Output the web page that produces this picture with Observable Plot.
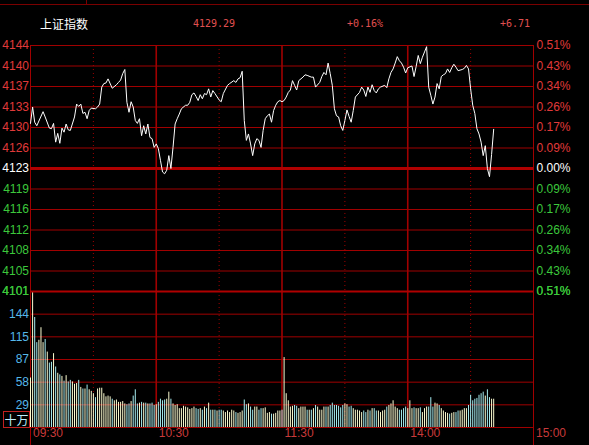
<!DOCTYPE html>
<html><head><meta charset="utf-8">
<script src="https://cdn.jsdelivr.net/npm/d3@7"></script>
<script src="https://cdn.jsdelivr.net/npm/@observablehq/plot@0.6"></script>
<style>
html,body{margin:0;padding:0;background:#000;}
#wrap{position:relative;width:589px;height:445px;background:#000;overflow:hidden;font-family:"Liberation Sans",Arial,sans-serif;}
#wrap svg{position:absolute;left:0;}
.hd{position:absolute;top:17px;font-family:"DejaVu Sans Mono",monospace;font-size:10px;color:#e05050;line-height:14px;}
#name{position:absolute;left:40px;top:16px;font-family:"Noto Sans CJK SC",sans-serif;font-size:12px;color:#fff;line-height:16px;}
#topline{position:absolute;left:0;top:4px;width:589px;height:1px;background:#7a0000;}
#toptick{position:absolute;left:86px;top:0;width:1px;height:5px;background:#7a0000;}
#unit{position:absolute;left:3px;top:411px;width:25px;height:15px;border:1px solid #c02020;color:#bfefff;font-family:"Noto Sans CJK SC",sans-serif;font-size:12px;line-height:15px;text-align:center;}
</style></head>
<body>
<div id="wrap">
  <div id="topline"></div><div id="toptick"></div>
  <div id="name">上证指数</div>
  <div class="hd" id="h1" style="left:193px"></div>
  <div class="hd" id="h2" style="left:347px"></div>
  <div class="hd" id="h3" style="left:500px"></div>
  <div id="unit">十万</div>
</div>
<script>
// ---- data ----
const title = "上证指数";
const lastPrice = "4129.29";
const changePct = "+0.16%";
const changeAbs = "+6.71";
const prevClose = 4122.58;

const priceLevels = [4143.6, 4140.1, 4136.6, 4133.1, 4129.6, 4126.1, 4122.58, 4119.1, 4115.6, 4112.1, 4108.6, 4105.1, 4101.6];
const priceLabels = ["4144","4140","4137","4133","4130","4126","4123","4119","4116","4112","4108","4105","4101"];
const pctLabels = ["0.51%","0.43%","0.34%","0.26%","0.17%","0.09%","0.00%","0.09%","0.17%","0.26%","0.34%","0.43%","0.51%"];

const volLevels = [28.85, 57.7, 86.55, 115.4, 144.25];
const volLabels = ["29","58","87","115","144"];
const volMax = 173.1;

const timeTicks = [0, 60, 120, 180, 240];
const timeLabels = ["09:30","10:30","11:30","14:00","15:00"];
const halfHourTicks = [30, 90, 150, 210];

// minute index (0 = 09:30, 120 = 11:30/13:00, 240 = 15:00)
const priceMinutes = [0,1,2,3,6,7,9,10,11,12,13,14,15,16,17,18,19,21,22,23,24,25,26,27,28,29,31,32,33,34,35,36,37,39,41,42,43,44,45,46,47,48,49,50,51,52,53,54,55,56,57,58,59,60,61,62,63,64,65,66,67,68,69,70,71,72,74,75,76,77,78,79,80,81,82,83,84,85,86,87,88,90,91,92,94,95,97,98,99,100,101,102,103,104,105,106,107,108,109,110,111,112,113,114,115,116,117,118,119,120,121,122,123,124,125,126,127,128,130,131,132,134,135,136,138,139,140,141,142,143,144,145,146,147,148,149,150,151,152,153,154,155,157,158,159,160,161,162,163,164,165,166,167,169,170,171,172,173,174,175,176,177,178,179,180,182,183,184,185,186,187,188,189,190,191,192,193,194,195,196,197,198,199,200,201,202,203,204,206,207,208,209,210,211,212,213,214,215,216,217,218,219,220,221];
const priceValues = [4130.3,4133.1,4130.5,4129.9,4132.3,4131.4,4129.5,4129.4,4130.3,4127.1,4128.6,4126.9,4129.5,4128.8,4130.2,4129.2,4129.1,4131.4,4133.6,4133.2,4133.6,4132.0,4132.2,4131.1,4132.5,4132.9,4132.8,4133.1,4133.6,4136.5,4137.1,4137.2,4137.9,4136.3,4136.9,4137.3,4137.7,4138.8,4139.5,4133.9,4132.2,4134.0,4133.1,4130.8,4130.3,4131.1,4128.2,4129.9,4128.5,4130.2,4127.9,4127.7,4126.2,4126.8,4126.0,4124.0,4122.0,4121.7,4122.3,4124.8,4122.6,4126.2,4130.2,4131.1,4131.9,4132.8,4133.4,4133.4,4133.9,4135.2,4135.5,4134.9,4134.2,4135.2,4134.5,4135.4,4135.2,4136.2,4134.8,4135.9,4135.4,4134.3,4134.0,4135.4,4136.8,4137.1,4137.6,4137.3,4137.9,4138.1,4139.2,4130.8,4127.4,4128.5,4126.8,4124.8,4126.8,4127.7,4127.4,4126.2,4129.1,4131.1,4131.6,4131.9,4130.5,4132.5,4133.4,4134.0,4134.2,4134.0,4134.2,4134.8,4135.6,4136.0,4137.6,4136.8,4136.0,4137.6,4138.2,4138.6,4138.5,4138.2,4138.2,4136.5,4137.3,4138.3,4139.0,4138.6,4140.6,4138.8,4136.8,4132.8,4131.6,4131.4,4129.9,4129.1,4130.8,4132.6,4131.5,4130.5,4132.5,4134.8,4135.6,4136.5,4136.0,4134.9,4136.5,4135.6,4136.9,4135.9,4135.5,4136.2,4136.5,4136.8,4136.4,4137.9,4139.0,4139.6,4140.6,4141.7,4141.0,4140.6,4139.9,4138.9,4139.8,4140.1,4138.3,4140.0,4141.9,4140.5,4141.6,4142.5,4143.4,4136.5,4135.1,4133.6,4134.8,4137.1,4136.2,4138.3,4138.6,4138.8,4139.6,4139.0,4139.8,4140.4,4139.9,4139.3,4139.5,4139.7,4140.2,4139.6,4136.2,4133.4,4132.0,4129.4,4128.5,4127.1,4124.8,4126.5,4122.6,4121.2,4125.0,4129.29];

// volume per minute (十万), minute 0..221
const volumes = [
63,172,140,108,111,127,108,112,96,82,
83,94,77,69,67,65,59,66,58,60,
58,55,56,60,51,49,49,54,48,46,
43,38,49,50,50,43,39,40,39,36,
34,35,32,32,33,30,29,30,33,40,
48,30,31,32,31,31,30,30,
31,28,29,32,36,34,35,36,45,36,
30,28,29,24,24,27,26,25,23,24,
26,24,23,24,22,26,24,31,22,22,
22,21,22,22,21,19,21,19,
22,21,19,18,19,21,35,29,30,26,
22,26,26,22,24,24,25,18,19,
17,17,18,21,21,22,
89,43,34,26,27,28,27,
24,26,26,26,22,22,22,24,28,26,
22,22,26,26,26,28,31,28,28,27,
25,28,30,29,26,27,24,22,22,21,
19,21,19,22,21,24,24,21,
21,19,21,22,26,28,30,34,26,24,
22,22,24,26,24,34,24,25,24,24,
25,19,24,26,26,38,26,31,30,28,
24,21,19,18,17,18,19,19,
21,21,22,24,24,28,41,34,36,37,
41,43,45,40,48,38,36,36];

// ---- colours ----
const RED = "#e03a3a", GREEN = "#3cc83c", WHITE = "#ffffff", CYAN = "#55b8ea";
const GRID = "#a00000";
const UPBAR = "#fbfbd0", DOWNBAR = "#a6ecf0";

document.getElementById("h1").textContent = lastPrice;
document.getElementById("h2").textContent = changePct;
document.getElementById("h3").textContent = changeAbs;
document.getElementById("name").textContent = title;

const priceData = priceMinutes.map((m, i) => ({m, p: priceValues[i]}));
const levelColor = (d, i) => i < 6 ? RED : i === 6 ? WHITE : GREEN;

// colour each volume bar by whether the last known price rose or fell
const lastKnown = new Map(priceData.map(d => [d.m, d.p]));
let prev = prevClose, cur = prevClose;
const volData = volumes.map((v, m) => {
  if (lastKnown.has(m)) cur = lastKnown.get(m);
  const c = cur >= prev ? UPBAR : DOWNBAR;
  prev = cur;
  return {m, v, c};
});

const W = 589, ML = 30, MR = 56;

const pricePlot = Plot.plot({
  width: W, height: 266, marginTop: 10, marginBottom: 10, marginLeft: ML, marginRight: MR,
  x: {domain: [0, 240], axis: null},
  y: {domain: [priceLevels[12], priceLevels[0]], axis: null},
  color: {type: "identity"},
  style: {background: "transparent", overflow: "visible"},
  marks: [
    Plot.ruleY(priceLevels.filter((d, i) => i !== 6 && i !== 12), {stroke: GRID, strokeWidth: 1}),
    Plot.ruleX(halfHourTicks, {stroke: GRID, strokeWidth: 1, strokeDasharray: "1,3"}),
    Plot.ruleX([60, 120, 180], {stroke: GRID, strokeWidth: 1.6}),
    Plot.ruleX([0, 240], {stroke: GRID, strokeWidth: 1}),
    Plot.ruleY([prevClose], {stroke: "#b00000", strokeWidth: 3}),
    Plot.line(priceData, {x: "m", y: "p", stroke: "#ffffff", strokeWidth: 1}),
    Plot.text(priceLevels, {y: d => d, text: (d, i) => priceLabels[i], fill: levelColor, frameAnchor: "left", textAnchor: "end", dx: -1.5, fontSize: 12, fontFamily: "Liberation Sans, Arial, sans-serif"}),
    Plot.text(priceLevels, {y: d => d, text: (d, i) => pctLabels[i], fill: levelColor, frameAnchor: "right", textAnchor: "start", dx: 3, fontSize: 12, fontFamily: "Liberation Sans, Arial, sans-serif"})
  ]
});
pricePlot.style.top = "35px";

const volPlot = Plot.plot({
  width: W, height: 164, marginTop: 10, marginBottom: 18, marginLeft: ML, marginRight: MR,
  x: {domain: [0, 240], axis: null},
  y: {domain: [0, volMax], axis: null},
  color: {type: "identity"},
  style: {background: "transparent", overflow: "visible"},
  marks: [
    Plot.ruleY(volLevels, {stroke: GRID, strokeWidth: 1}),
    Plot.ruleY([0], {stroke: GRID, strokeWidth: 1}),
    Plot.ruleX(halfHourTicks, {stroke: GRID, strokeWidth: 1, strokeDasharray: "1,3"}),
    Plot.ruleX([60, 120, 180], {stroke: GRID, strokeWidth: 1.6}),
    Plot.ruleX([0, 240], {y1: -23, y2: volMax, stroke: GRID, strokeWidth: 1}),
    Plot.ruleX(volData, {x: "m", y1: 0, y2: "v", stroke: "c", strokeWidth: 1}),
    Plot.ruleY([volMax], {stroke: "#b00000", strokeWidth: 2}),
    Plot.text(volLevels, {y: d => d, text: (d, i) => volLabels[i], fill: CYAN, frameAnchor: "left", textAnchor: "end", dx: -1.5, fontSize: 12, fontFamily: "Liberation Sans, Arial, sans-serif"}),
    Plot.text([priceLevels[12]], {y: () => volMax, text: () => priceLabels[12], fill: GREEN, frameAnchor: "left", textAnchor: "end", dx: -1.5, fontSize: 12, fontFamily: "Liberation Sans, Arial, sans-serif"}),
    Plot.text([pctLabels[12]], {y: () => volMax, text: d => d, fill: GREEN, frameAnchor: "right", textAnchor: "start", dx: 3, fontSize: 12, fontFamily: "Liberation Sans, Arial, sans-serif"}),
    Plot.text(timeTicks, {x: d => d, text: (d, i) => timeLabels[i], fill: "#c83a3a", frameAnchor: "bottom", textAnchor: "start", dx: 2.5, dy: 9, fontSize: 12, fontFamily: "Liberation Sans, Arial, sans-serif"})
  ]
});
volPlot.style.top = "281px";

const wrap = document.getElementById("wrap");
wrap.insertBefore(pricePlot, document.getElementById("unit"));
wrap.appendChild(volPlot);
</script>
</body></html>
